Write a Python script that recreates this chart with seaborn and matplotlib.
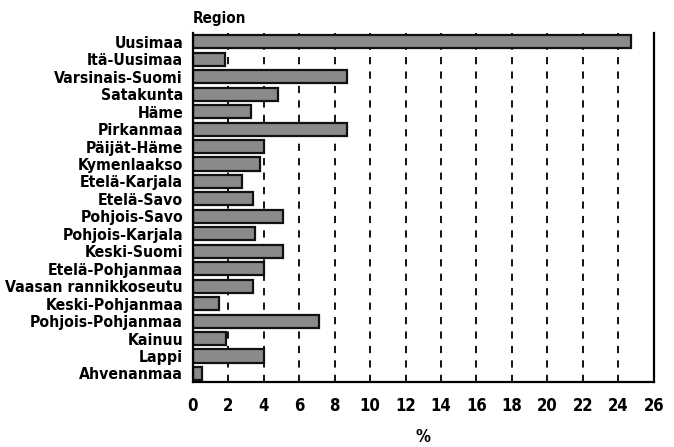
import pandas as pd
import seaborn as sns
import matplotlib.pyplot as plt

regions = [
    "Uusimaa", "Itä-Uusimaa", "Varsinais-Suomi", "Satakunta", "Häme",
    "Pirkanmaa", "Päijät-Häme", "Kymenlaakso", "Etelä-Karjala", "Etelä-Savo",
    "Pohjois-Savo", "Pohjois-Karjala", "Keski-Suomi", "Etelä-Pohjanmaa",
    "Vaasan rannikkoseutu", "Keski-Pohjanmaa", "Pohjois-Pohjanmaa", "Kainuu",
    "Lappi", "Ahvenanmaa",
]
share = [24.7, 1.8, 8.7, 4.8, 3.3, 8.7, 4.0, 3.8, 2.8, 3.4,
         5.1, 3.5, 5.1, 4.0, 3.4, 1.5, 7.1, 1.9, 4.0, 0.5]
xticks = list(range(0, 27, 2))

df = pd.DataFrame({"region": regions, "share": share})

sns.set_style("white")
plt.rcParams['font.family'] = ['DejaVu Sans']
plt.rcParams['font.stretch'] = 'condensed'
plt.rcParams['font.weight'] = 'bold'
plt.rcParams['text.color'] = 'black'
plt.rcParams['xtick.color'] = 'black'
plt.rcParams['ytick.color'] = 'black'
plt.rcParams['axes.labelcolor'] = 'black'

fig = plt.figure(figsize=(6.74, 4.47), dpi=100)
ax = fig.add_axes([0.286, 0.145, 0.684, 0.781])

for x in xticks[1:]:
    ax.axvline(x, color='black', linestyle=(0, (4, 4)), linewidth=1.3, zorder=0)

sns.barplot(data=df, x="share", y="region", orient="h", color="#8a8a8a",
            edgecolor="#111111", linewidth=1.6, width=0.75, saturation=1,
            ax=ax, zorder=2)

ax.set_xlim(0, 26)
ax.set_xticks(xticks)
ax.set_xticklabels([str(t) for t in xticks], fontsize=12, fontweight='bold')
ax.set_yticks(range(len(regions)))
ax.set_yticklabels(regions, fontsize=11.3, fontweight='bold')
ax.tick_params(axis='x', direction='inout', length=8, width=1.5, pad=7)
ax.tick_params(axis='y', length=0, pad=7)
ax.set_ylabel("")
ax.set_xlabel("%", fontsize=12, fontweight='bold', labelpad=9)

for side in ['left', 'bottom', 'right']:
    ax.spines[side].set_color('black')
    ax.spines[side].set_linewidth(1.6)
ax.spines['top'].set_visible(False)

fig.text(0.286, 0.942, "Region", fontsize=11, fontweight='bold', ha='left', va='bottom')

fig.savefig("out.png", dpi=100)
